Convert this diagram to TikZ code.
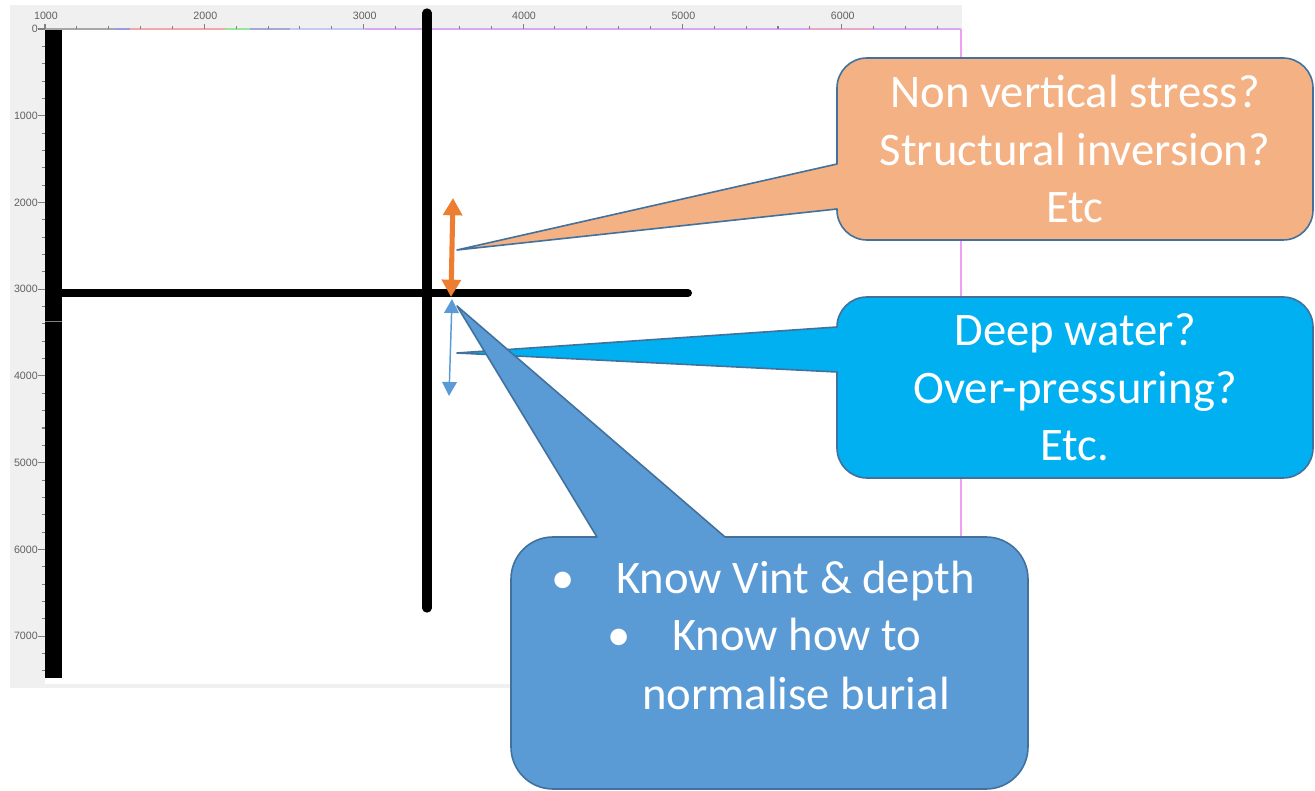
\documentclass[tikz,border=0pt]{standalone}
\usepackage{fontspec}
\setmainfont{Carlito}
\newfontfamily\axisfont{Liberation Sans}
\usetikzlibrary{arrows.meta}
\definecolor{panelgray}{HTML}{F0F0F0}
\definecolor{axlabel}{HTML}{606060}
\definecolor{tickc}{HTML}{808080}
\definecolor{pinkline}{HTML}{F0A0F0}
\definecolor{orangeA}{HTML}{ED7D31}
\definecolor{blueA}{HTML}{5B9BD5}
\definecolor{calloutline}{HTML}{41719C}
\definecolor{orangeF}{HTML}{F4B183}
\definecolor{cyanF}{HTML}{00B0F0}
\definecolor{blueF}{HTML}{5B9BD5}
\definecolor{c1}{HTML}{A8A8A8}
\definecolor{c2}{HTML}{9A9AE6}
\definecolor{c3}{HTML}{F2A8A8}
\definecolor{c4}{HTML}{9AE69A}
\definecolor{c5}{HTML}{A8A8D8}
\definecolor{c6}{HTML}{C8C8F4}
\definecolor{c7}{HTML}{D8A8F4}
\definecolor{c8}{HTML}{E8A8C8}
\tikzset{
  callout/.style={draw=calloutline, line width=1.2pt, line join=round},
  ctext/.style={inner sep=0pt, text=white, font=\fontsize{35pt}{43.5pt}\selectfont},
  axlab/.style={inner sep=0pt, text=axlabel, font=\axisfont\fontsize{8pt}{9pt}\selectfont},
  bigline/.style={black, line cap=round},
}
\begin{document}
\begin{tikzpicture}[x=0.75pt,y=-0.75pt]
\useasboundingbox (0,0) rectangle (1315,791);
% panel
\fill[panelgray] (10,5) rectangle (962,688);
\fill[white] (45,29) rectangle (961,684);
% top axis coloured line
\foreach \a/\b/\c in {45/115/c1,115/130/c2,130/225/c3,225/250/c4,250/290/c5,290/365/c6,365/810/c7,810/870/c8,870/961/c7}
  \draw[\c, line width=1pt] (\a,29) -- (\b,29);
\draw[pinkline, line width=0.9pt] (961,29) -- (961,684);
% top ticks
\foreach \i in {0,...,28} {
  \pgfmathsetmacro{\xx}{45+\i*31.87}
  \draw[tickc, line width=0.8pt] (\xx,26.5) -- (\xx,29);
}
\foreach \i/\t in {0/1000,1/2000,2/3000,3/4000,4/5000,5/6000} {
  \pgfmathsetmacro{\xx}{45+\i*159.35}
  \draw[tickc, line width=0.8pt] (\xx,24) -- (\xx,29);
  \node[axlab] (tx\i) at (\xx+1,16) {\t};
}
% left ticks
\foreach \i in {0,...,37} {
  \pgfmathsetmacro{\yy}{29+\i*17.348}
  \draw[tickc, line width=0.8pt] (41.5,\yy) -- (45,\yy);
}
\foreach \i/\t in {0/0,1/1000,2/2000,3/3000,4/4000,5/5000,6/6000,7/7000} {
  \pgfmathsetmacro{\yy}{29+\i*86.74}
  \draw[tickc, line width=0.8pt] (38,\yy) -- (45,\yy);
  \node[axlab, anchor=east] (ty\i) at (38,\yy) {\t};
}
% black lines
\fill[black] (45,30) rectangle (62,678);
\draw[gray, line width=0.6pt] (45,321) -- (62,321);
\draw[bigline, line width=7pt] (427,13) -- (427,608);
\draw[bigline, line width=6pt] (62,293) -- (688,293);
% callouts
\draw[callout, fill=orangeF] (457,250) -- (837,209) -- (837,210)
  .. controls (837,226.6) and (850.4,240) .. (867,240) -- (1283,240)
  .. controls (1299.6,240) and (1313,226.6) .. (1313,210) -- (1313,88)
  .. controls (1313,71.4) and (1299.6,58) .. (1283,58) -- (867,58)
  .. controls (850.4,58) and (837,71.4) .. (837,88) -- (837,164) -- cycle;
\draw[callout, fill=cyanF] (457,353) -- (837,372) -- (837,448)
  .. controls (837,464.6) and (850.4,478) .. (867,478) -- (1283,478)
  .. controls (1299.6,478) and (1313,464.6) .. (1313,448) -- (1313,327)
  .. controls (1313,310.4) and (1299.6,297) .. (1283,297) -- (867,297)
  .. controls (850.4,297) and (837,310.4) .. (837,327) -- cycle;
\draw[callout, fill=blueF] (457,306) -- (725,537) -- (986,537)
  .. controls (1009.2,537) and (1028,555.8) .. (1028,579) -- (1028,747)
  .. controls (1028,770.2) and (1009.2,789) .. (986,789) -- (553,789)
  .. controls (529.8,789) and (511,770.2) .. (511,747) -- (511,579)
  .. controls (511,555.8) and (529.8,537) .. (553,537) -- (597,537) -- cycle;
% arrows
\coordinate (oT) at (453,198);
\coordinate (oB) at (451,297);
\coordinate (bT) at (452,299);
\coordinate (bB) at (449,396);
\draw[orangeA, line width=3.8pt, {Triangle[width=14pt,length=13pt]}-{Triangle[width=14pt,length=13pt]}] (oT) -- (oB);
\draw[blueA, line width=1.1pt, {Triangle[width=11pt,length=10.5pt]}-{Triangle[width=11pt,length=10.5pt]}] (bT) -- (bB);
% texts
\node[ctext, anchor=base] (o1) at (1075,108) {Non vertical stress?};
\node[ctext, anchor=base] (o2) at (1075,166) {Structural inversion?};
\node[ctext, anchor=base] (o3) at (1075,223) {Etc};
\node[ctext, anchor=base] (d1) at (1075,346) {Deep water?};
\node[ctext, anchor=base] (d2) at (1075,404) {Over-pressuring?};
\node[ctext, anchor=base] (d3) at (1075,461) {Etc.};
\node[ctext, anchor=base] (k1b) at (563,594) {•};
\node[ctext, anchor=base west] (k1) at (616,594) {Know Vint \& depth};
\node[ctext, anchor=base] (k2b) at (619,651) {•};
\node[ctext, anchor=base west] (k2) at (672,651) {Know how to};
\node[ctext, anchor=base west] (k3) at (642,709) {normalise burial};
\end{tikzpicture}
\end{document}
